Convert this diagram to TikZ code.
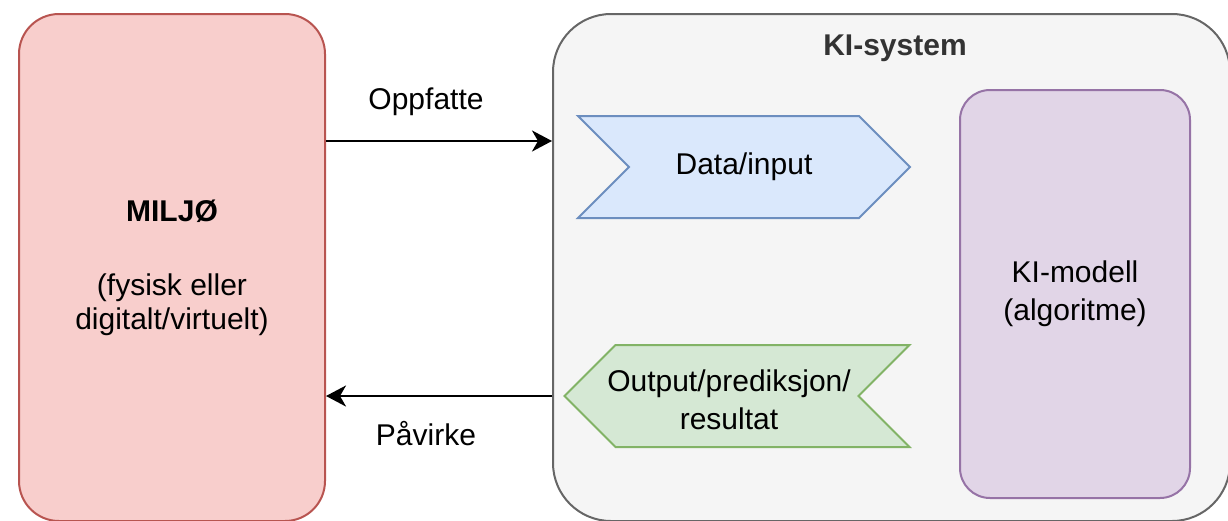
\documentclass[tikz,border=0pt]{standalone}
\usepackage{fontspec}
\setmainfont{Liberation Sans}
\usetikzlibrary{arrows.meta,shapes.symbols}

\definecolor{miljofill}{HTML}{F8CECC}
\definecolor{miljoline}{HTML}{B85450}
\definecolor{sysfill}{HTML}{F5F5F5}
\definecolor{sysline}{HTML}{666666}
\definecolor{systext}{HTML}{333333}
\definecolor{modfill}{HTML}{E1D5E7}
\definecolor{modline}{HTML}{9673A6}
\definecolor{infill}{HTML}{DAE8FC}
\definecolor{inline}{HTML}{6C8EBF}
\definecolor{outfill}{HTML}{D5E8D4}
\definecolor{outline}{HTML}{82B366}

\begin{document}
\begin{tikzpicture}[x=1pt, y=-1pt, >={Stealth[length=20pt,width=21pt,inset=6pt]},
	every node/.style={font=\fontsize{30}{34}\selectfont, align=center, inner sep=0pt},
	boks/.style={draw, line width=2pt, rectangle},
	pil/.style={draw, line width=2pt, signal, signal pointer angle=90},
	flow/.style={->, line width=2.4pt}]

	\useasboundingbox (0,0) rectangle (1228,520);

	% === BOXES === (((
	\node [boks, fill=miljofill, draw=miljoline, rounded corners=40pt,
		minimum width=306pt, minimum height=507pt] (miljo) at (172,267.5)
		{\textbf{MILJØ}\\[40pt](fysisk eller\\digitalt/virtuelt)};
	\node [boks, fill=sysfill, draw=sysline, rounded corners=58pt,
		minimum width=677pt, minimum height=507pt] (kisys) at (891.5,267.5) {};
	\node [text=systext, font=\fontsize{30}{34}\selectfont\bfseries] (tittel) at (895,48) {KI-system};
	\node [boks, fill=modfill, draw=modline, rounded corners=30pt,
		minimum width=230pt, minimum height=408pt] (modell) at (1075,294)
		{KI-modell\\[4pt](algoritme)};
	% )))

	% === SIGNALS === (((
	\node [pil, fill=outfill, draw=outline, signal to=west, signal from=east,
		minimum width=345pt, minimum height=102pt] (utdata) at (737,396) {};
	\node [pil, fill=infill, draw=inline, signal to=east, signal from=west,
		minimum width=332pt, minimum height=102pt] (datain) at (744,167) {Data/input};
	\node (utdatatekst) at (729,400) {Output/prediksjon/\\[4pt]resultat};
	% )))

	% === ARROWS === (((
	\draw [flow] (miljo.east |- 0,141) -- node [above=24pt, xshift=-13pt] (oppf) {Oppfatte} (kisys.west |- 0,141);
	\draw [flow] (kisys.west |- utdata) -- node [below=24pt, xshift=-13pt] (pavirk) {Påvirke} (miljo.east |- utdata);
	% )))

\end{tikzpicture}
\end{document}
